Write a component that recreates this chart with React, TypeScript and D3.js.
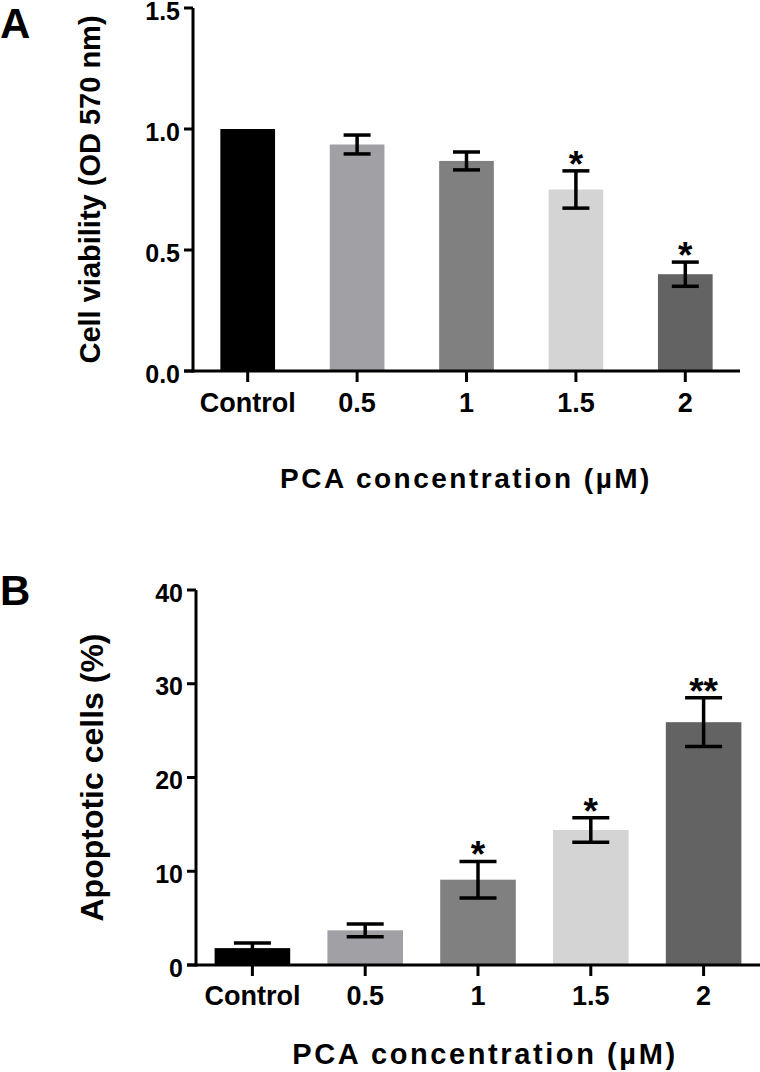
import React from "react";
import * as d3 from "d3";

const categories = ["Control", "0.5", "1", "1.5", "2"];
const barColors = ["#000000", "#a1a1a5", "#808080", "#d4d4d4", "#636363"];

const viabilityMean = [1.0, 0.936, 0.868, 0.75, 0.4];
const viabilityErr = [0, 0.039, 0.037, 0.077, 0.05];
const viabilitySig = ["", "", "", "*", "*"];
const viabilityTicks = [0, 0.5, 1.0, 1.5];

const apoptosisMean = [1.8, 3.7, 9.1, 14.4, 25.9];
const apoptosisErr = [0.55, 0.68, 1.95, 1.3, 2.6];
const apoptosisSig = ["", "", "*", "*", "**"];
const apoptosisTicks = [0, 10, 20, 30, 40];

const FONT = "'Liberation Sans', Arial, Helvetica, sans-serif";

type PanelProps = {
  letter: string;
  letterY: number;
  means: number[];
  errs: number[];
  sig: string[];
  ticks: number[];
  tickFmt: (v: number) => string;
  domainMax: number;
  xRange: [number, number];
  axisEnd: number;
  yRange: [number, number];
  padInner: number;
  padOuter: number;
  capW: number;
  tickLabelY: number;
  titleX: number;
  titleY: number;
  titleSize: number;
  titleSpacing: number;
  yTitle: string;
  yTitleX: number;
  yTitleSize: number;
};

function Panel(p: PanelProps) {
  const x = d3
    .scaleBand<string>()
    .domain(categories)
    .range(p.xRange)
    .paddingInner(p.padInner)
    .paddingOuter(p.padOuter);
  const y = d3.scaleLinear().domain([0, p.domainMax]).range(p.yRange);
  const x0 = p.xRange[0];
  const y0 = y(0);
  const bw = x.bandwidth();
  const yMid = (p.yRange[0] + p.yRange[1]) / 2;
  return (
    <g fontFamily={FONT} fontWeight="bold">
      <text x={0} y={p.letterY} fontSize={42} fill="#000">
        {p.letter}
      </text>
      {categories.map((c, i) => {
        const bx = x(c)!;
        const top = y(p.means[i]);
        return (
          <rect key={c} x={bx} y={top} width={bw} height={y0 - top} fill={barColors[i]} />
        );
      })}
      {categories.map((c, i) => {
        if (!p.errs[i]) return null;
        const cx = x(c)! + bw / 2;
        const hi = y(p.means[i] + p.errs[i]);
        const lo = y(p.means[i] - p.errs[i]);
        return (
          <g key={"e" + c} stroke="#000" strokeWidth={3.5}>
            <line x1={cx} x2={cx} y1={hi} y2={lo} />
            <line x1={cx - p.capW / 2} x2={cx + p.capW / 2} y1={hi} y2={hi} />
            <line x1={cx - p.capW / 2} x2={cx + p.capW / 2} y1={lo} y2={lo} />
          </g>
        );
      })}
      {categories.map((c, i) => {
        if (!p.sig[i]) return null;
        const cx = x(c)! + bw / 2;
        const hi = y(p.means[i] + p.errs[i]);
        return (
          <text key={"s" + c} x={cx} y={hi + 6} fontSize={37} textAnchor="middle" fill="#000">
            {p.sig[i]}
          </text>
        );
      })}
      {/* y axis */}
      <line x1={x0} x2={x0} y1={p.yRange[1]} y2={y0 + 1.5} stroke="#000" strokeWidth={3} />
      {p.ticks.map((t) => (
        <g key={"yt" + t}>
          <line x1={x0 - 9} x2={x0} y1={y(t)} y2={y(t)} stroke="#000" strokeWidth={3} />
          <text x={x0 - 13} y={y(t)} dy="0.46em" fontSize={25} textAnchor="end" fill="#000">
            {p.tickFmt(t)}
          </text>
        </g>
      ))}
      {/* x axis */}
      <line x1={x0 - 9} x2={p.axisEnd} y1={y0} y2={y0} stroke="#000" strokeWidth={3} />
      {categories.map((c) => {
        const cx = x(c)! + bw / 2;
        return (
          <g key={"xt" + c}>
            <line x1={cx} x2={cx} y1={y0} y2={y0 + 11} stroke="#000" strokeWidth={3} />
            <text x={cx} y={p.tickLabelY} fontSize={27} textAnchor="middle" fill="#000">
              {c}
            </text>
          </g>
        );
      })}
      <text
        x={p.titleX}
        y={p.titleY}
        fontSize={p.titleSize}
        letterSpacing={p.titleSpacing}
        textAnchor="middle"
        fill="#000"
      >
        PCA concentration (µM)
      </text>
      <text
        transform={`translate(${p.yTitleX},${yMid}) rotate(-90)`}
        fontSize={p.yTitleSize}
        textAnchor="middle"
        fill="#000"
      >
        {p.yTitle}
      </text>
    </g>
  );
}

export default function App() {
  return (
    <svg
      width={760}
      height={1072}
      style={{ position: "absolute", left: 0, top: 0, background: "#fff" }}
    >
      <rect x={0} y={0} width={760} height={1072} fill="#fff" />
      <Panel
        letter="A"
        letterY={38}
        means={viabilityMean}
        errs={viabilityErr}
        sig={viabilitySig}
        ticks={viabilityTicks}
        tickFmt={(v) => v.toFixed(1)}
        domainMax={1.5}
        xRange={[193, 740]}
        axisEnd={740}
        yRange={[371, 8]}
        padInner={0.5}
        padOuter={0.25}
        capW={27}
        tickLabelY={412}
        titleX={466}
        titleY={488}
        titleSize={28}
        titleSpacing={2.5}
        yTitle="Cell viability (OD 570 nm)"
        yTitleX={100}
        yTitleSize={29}
      />
      <Panel
        letter="B"
        letterY={605}
        means={apoptosisMean}
        errs={apoptosisErr}
        sig={apoptosisSig}
        ticks={apoptosisTicks}
        tickFmt={(v) => String(v)}
        domainMax={40}
        xRange={[196, 760]}
        axisEnd={760}
        yRange={[965, 590]}
        padInner={0.33}
        padOuter={0.165}
        capW={37}
        tickLabelY={1005}
        titleX={485}
        titleY={1064}
        titleSize={29}
        titleSpacing={2.6}
        yTitle="Apoptotic cells (%)"
        yTitleX={103}
        yTitleSize={32}
      />
    </svg>
  );
}
